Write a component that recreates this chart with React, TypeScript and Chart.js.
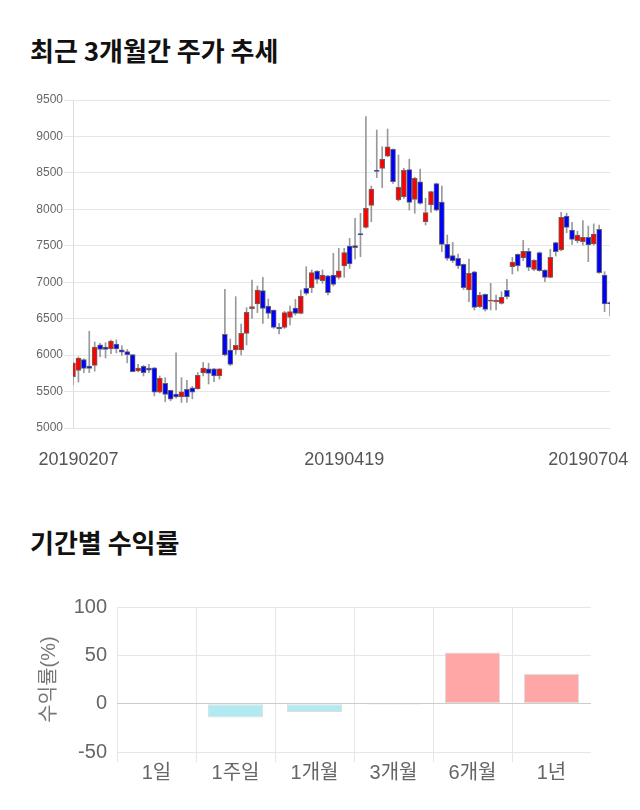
import React, { useEffect, useRef } from 'react';
import { Chart, registerables } from 'chart.js';

Chart.register(...registerables);

const FONT = "'Liberation Sans', Arial, 'Noto Sans CJK KR', sans-serif";

// ---- price data (daily candles) ----
const opens = [
  5705, 5790, 5940, 5850, 5860, 6140, 6109, 6086, 6150, 6073,
  6050, 6009, 5782, 5845, 5823, 5827, 5491, 5614, 5518, 5464,
  5427, 5532, 5550, 5541, 5755, 5813, 5813, 5713, 6286, 6070,
  6070, 6070, 6299, 6637, 6701, 6884, 6674, 6619, 6386, 6381,
  6518, 6646, 6573, 6916, 6926, 7154, 7021, 7089, 7099, 7067,
  7222, 7497, 7501, 7666, 7753, 8055, 8535, 8562, 8731, 8823,
  8128, 8174, 8544, 8137, 8379, 7830, 8059, 8352, 8100, 7519,
  7364, 7327, 7245, 6893, 7144, 6665, 6834, 6740, 6733, 6710,
  6889, 7213, 7382, 7332, 7424, 7177, 7405, 7168, 7067, 7543,
  7442, 7909, 7716, 7570, 7556, 7616, 7524, 7726, 7099, 6720,
];
const highs = [
  5900, 5975, 5950, 6327, 6180, 6160, 6170, 6205, 6210, 6130,
  6077, 6010, 5873, 5860, 5873, 5830, 5714, 5691, 5520, 6032,
  5691, 5655, 5570, 5760, 5900, 5888, 5820, 5815, 6903, 6221,
  6802, 6427, 6651, 7031, 6948, 7067, 6770, 6620, 6436, 6600,
  6674, 6765, 6893, 7213, 7168, 7160, 7168, 7095, 7396, 7465,
  7465, 7602, 7876, 7945, 9271, 8320, 9088, 8860, 9102, 8830,
  8745, 8562, 8690, 8440, 8553, 8151, 8250, 8360, 8320, 7647,
  7547, 7387, 7250, 7318, 7150, 6861, 6840, 6985, 6825, 6870,
  7040, 7341, 7390, 7575, 7465, 7310, 7415, 7175, 7451, 7550,
  7959, 7945, 7822, 7700, 7845, 7771, 7800, 7785, 7145, 6730,
];
const lows = [
  5590, 5630, 5760, 5760, 5780, 5977, 5960, 6020, 6030, 5995,
  5895, 5770, 5770, 5714, 5759, 5441, 5480, 5359, 5373, 5410,
  5350, 5350, 5400, 5530, 5714, 5604, 5636, 5670, 5990, 5855,
  6011, 6002, 6139, 6505, 6582, 6436, 6505, 6367, 6290, 6367,
  6413, 6550, 6564, 6825, 6857, 6985, 6985, 6825, 6948, 7044,
  7067, 7190, 7318, 7350, 7740, 7830, 8434, 8297, 8722, 8356,
  8114, 8150, 7990, 7945, 8070, 7785, 7958, 7980, 7419, 7300,
  7270, 7190, 6900, 6733, 6619, 6650, 6605, 6619, 6619, 6700,
  6770, 7113, 7154, 7296, 7158, 7158, 7150, 7008, 7060, 7360,
  7430, 7680, 7520, 7540, 7510, 7282, 7510, 7120, 6596, 6537,
];
const closes = [
  5890, 5960, 5818, 5818, 6110, 6077, 6077, 6191, 6086, 6041,
  6005, 5773, 5823, 5759, 5795, 5491, 5682, 5459, 5396, 5427,
  5495, 5427, 5491, 5723, 5823, 5750, 5713, 5813, 6001, 5874,
  6134, 6299, 6587, 6665, 6893, 6642, 6573, 6381, 6358, 6582,
  6596, 6573, 6811, 6848, 7131, 7040, 7099, 6856, 6971, 7158,
  7405, 7250, 7474, 7652, 8013, 8279, 8520, 8686, 8859, 8379,
  8302, 8535, 8096, 8425, 8082, 7954, 8242, 7990, 7519, 7327,
  7295, 7222, 6925, 7122, 6655, 6825, 6628, 6755, 6756, 6793,
  6802, 7277, 7227, 7424, 7204, 7300, 7158, 7067, 7341, 7419,
  7890, 7753, 7588, 7648, 7616, 7511, 7662, 7131, 6701, 6705,
];
const xTickIndex = [1, 50, 95];
const xTickText = ['20190207', '20190419', '20190704'];

// ---- period returns ----
const periods = ['1일', '1주일', '1개월', '3개월', '6개월', '1년'];
const returns = [0, -14.3, -8.5, -1.0, 52.9, 30.7];

function PriceChart() {
  const ref = useRef<HTMLCanvasElement>(null);
  useEffect(() => {
    if (!ref.current) return;
    const labels = opens.map((_, i) => i);
    const chart = new Chart(ref.current, {
      type: 'bar',
      data: {
        labels,
        datasets: [
          {
            data: lows.map((l, i) => [l, highs[i]]) as any,
            backgroundColor: '#999',
            barThickness: 1,
            grouped: false,
            order: 2,
          } as any,
          {
            data: opens.map((o, i) => [Math.min(o, closes[i]), Math.max(o, closes[i])]) as any,
            backgroundColor: opens.map((o, i) => (closes[i] >= o ? '#ff0000' : '#0000ff')),
            borderColor: '#666',
            borderWidth: 1,
            borderSkipped: false,
            barThickness: 5,
            grouped: false,
            order: 1,
          } as any,
        ],
      },
      options: {
        animation: false,
        responsive: false,
        layout: { padding: { top: 10, right: 30, left: 0, bottom: 0 } },
        plugins: { legend: { display: false }, tooltip: { enabled: false } },
        scales: {
          x: {
            type: 'category',
            offset: false,
            grid: { display: false, drawTicks: false },
            border: { display: false },
            afterBuildTicks: (s: any) => {
              s.ticks = xTickIndex.map((v) => ({ value: v }));
            },
            afterFit: (s: any) => {
              s.height = 52;
              s.paddingLeft = 0;
              s.paddingRight = 0;
            },
            ticks: {
              autoSkip: false,
              maxRotation: 0,
              padding: 21,
              color: '#555',
              font: { size: 18, family: FONT },
              callback: (v: any) => {
                const k = xTickIndex.indexOf(Number(v));
                return k >= 0 ? xTickText[k] : '';
              },
            },
          },
          y: {
            min: 5000,
            max: 9500,
            ticks: {
              stepSize: 500,
              color: '#666',
              font: { size: 12, family: FONT },
              padding: 1,
              callback: (v: any) => String(v),
            },
            grid: { color: '#e6e6e6', tickLength: 9 },
            border: { display: true, color: '#ddd' },
            afterFit: (s: any) => {
              s.width = 73;
            },
          },
        },
      },
    });
    return () => chart.destroy();
  }, []);
  return <canvas ref={ref} width={640} height={390} style={{ position: 'absolute', left: 0, top: 90 }} />;
}

function ReturnChart() {
  const ref = useRef<HTMLCanvasElement>(null);
  useEffect(() => {
    if (!ref.current) return;
    const chart = new Chart(ref.current, {
      type: 'bar',
      data: {
        labels: periods,
        datasets: [
          {
            data: returns,
            backgroundColor: returns.map((v) => (v >= 0 ? '#ffa6a6' : '#b3eaf2')),
            borderColor: '#dddddd',
            borderWidth: 1,
            borderSkipped: false,
            categoryPercentage: 0.7,
            barPercentage: 1,
          },
        ],
      },
      options: {
        animation: false,
        responsive: false,
        layout: { padding: { top: 19, right: 49, left: 0, bottom: 0 } },
        plugins: { legend: { display: false }, tooltip: { enabled: false } },
        scales: {
          x: {
            grid: {
              offset: true,
              tickLength: 10,
              color: (c: any) => (c.type === 'tick' ? '#e6e6e6' : 'rgba(0,0,0,0)'),
            },
            border: { display: false },
            ticks: { color: '#666', font: { size: 20, family: FONT }, padding: -1 },
            afterFit: (s: any) => {
              s.height = 48;
            },
          },
          y: {
            min: -50,
            max: 100,
            ticks: { stepSize: 50, color: '#666', font: { size: 20, family: FONT }, padding: 10 },
            grid: {
              drawTicks: false,
              color: (c: any) => (c.tick && c.tick.value === 0 ? '#cccccc' : '#e6e6e6'),
            },
            border: { display: false },
            title: {
              display: true,
              text: '수익률(%)',
              color: '#777',
              font: { size: 20, family: FONT },
              padding: { top: 37, bottom: 0 },
            },
            afterFit: (s: any) => {
              s.width = 117;
            },
          },
        },
      },
    });
    return () => chart.destroy();
  }, []);
  return <canvas ref={ref} width={640} height={215} style={{ position: 'absolute', left: 0, top: 585 }} />;
}

const titleStyle: React.CSSProperties = {
  position: 'absolute',
  left: 30,
  fontFamily: "'Noto Sans CJK KR', sans-serif",
  fontWeight: 700,
  fontSize: 26,
  lineHeight: '30px',
  color: '#111',
  whiteSpace: 'nowrap',
};

export default function App() {
  return (
    <div style={{ position: 'absolute', left: 0, top: 0, width: 640, height: 810, background: '#fff' }}>
      <div style={{ ...titleStyle, top: 35 }}>최근 3개월간 주가 추세</div>
      <PriceChart />
      <div style={{ ...titleStyle, top: 527 }}>기간별 수익률</div>
      <ReturnChart />
    </div>
  );
}
